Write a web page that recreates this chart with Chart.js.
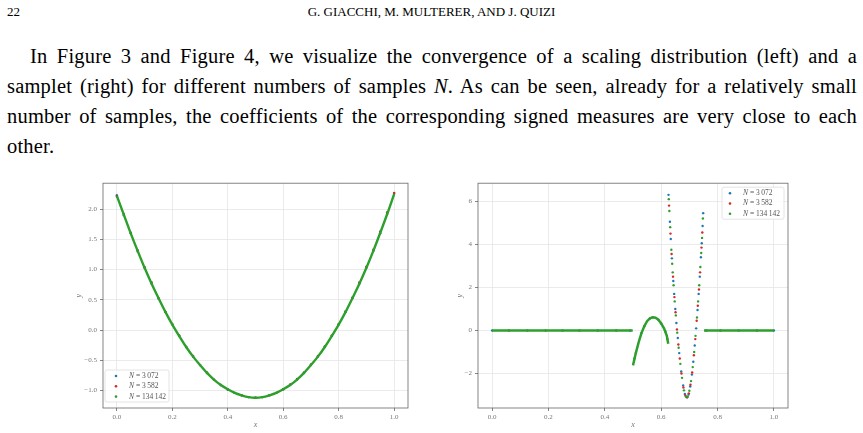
<!DOCTYPE html>
<html lang="en">
<head>
<meta charset="UTF-8">
<title>Figure 3 and Figure 4</title>
<script src="https://cdn.jsdelivr.net/npm/chart.js@4"></script>
<style>
  body { margin:0; width:863px; height:433px; background:#fff; position:relative; overflow:hidden; font-family:'Liberation Serif', serif; color:#000; }
  .pagenum { position:absolute; left:7px; top:4px; font-size:13px; }
  .runhead { position:absolute; left:0; top:4px; width:863px; text-align:center; font-size:13px; }
  .para { position:absolute; left:7px; top:41px; width:850px; font-size:20.5px; letter-spacing:0.2px; line-height:30px; }
  .para span { display:block; text-align:justify; text-align-last:justify; }
  .para span.first { text-indent:23px; }
  .para span.last { text-align-last:left; }
  canvas { position:absolute; }
</style>
</head>
<body>

<div class="pagenum">22</div>
<div class="runhead">G. GIACCHI, M. MULTERER, AND J. QUIZI</div>

<div class="para">
  <span class="first">In Figure 3 and Figure 4, we visualize the convergence of a scaling distribution (left) and a</span>
  <span>samplet (right) for different numbers of samples <i>N</i>. As can be seen, already for a relatively small</span>
  <span>number of samples, the coefficients of the corresponding signed measures are very close to each</span>
  <span class="last">other.</span>
</div>

<canvas id="leftChart" width="370" height="257" style="left:50px;top:176px"></canvas>
<canvas id="rightChart" width="433" height="257" style="left:430px;top:176px"></canvas>

<script>
// sample sizes (legend)
var sampleSizes = ['3\u2009072', '3\u2009582', '134\u2009142'];

// left: scaling distribution
var leftX = [0, 0.025, 0.05, 0.075, 0.1, 0.125, 0.15, 0.175, 0.2, 0.225, 0.25, 0.275, 0.3, 0.325, 0.35, 0.375, 0.4, 0.425, 0.45, 0.475, 0.5,
             0.525, 0.55, 0.575, 0.6, 0.625, 0.65, 0.675, 0.7, 0.725, 0.75, 0.775, 0.8, 0.825, 0.85, 0.875, 0.9, 0.925, 0.95, 0.975, 1];
var leftY3072 = [2.23, 1.90, 1.60, 1.30, 1.03, 0.77, 0.52, 0.30, 0.09, -0.10, -0.28, -0.44, -0.58, -0.71, -0.82, -0.91, -0.99, -1.04, -1.08, -1.11, -1.12,
                 -1.11, -1.08, -1.04, -0.98, -0.91, -0.82, -0.71, -0.58, -0.44, -0.28, -0.10, 0.09, 0.30, 0.53, 0.77, 1.03, 1.31, 1.60, 1.92, 2.26];
var leftY3582 = [2.21, 1.92, 1.61, 1.32, 1.04, 0.79, 0.53, 0.30, 0.10, -0.09, -0.28, -0.43, -0.58, -0.70, -0.82, -0.91, -0.98, -1.04, -1.08, -1.11, -1.12,
                 -1.11, -1.08, -1.04, -0.98, -0.90, -0.81, -0.70, -0.57, -0.43, -0.27, -0.09, 0.10, 0.31, 0.54, 0.79, 1.05, 1.33, 1.63, 1.95, 2.27];
var leftY134142 = [2.22, 1.91, 1.60, 1.31, 1.03, 0.77, 0.53, 0.30, 0.09, -0.10, -0.28, -0.44, -0.58, -0.71, -0.82, -0.91, -0.98, -1.04, -1.08, -1.11, -1.12,
                   -1.11, -1.08, -1.04, -0.98, -0.91, -0.82, -0.71, -0.58, -0.44, -0.28, -0.10, 0.09, 0.30, 0.53, 0.77, 1.03, 1.31, 1.61, 1.92, 2.25];

// right: samplet
var rightX3072 = [0, 0.125, 0.25, 0.375, 0.49, 0.505, 0.53, 0.56, 0.59, 0.615,
                  0.626, 0.631, 0.634, 0.638, 0.643, 0.646, 0.65, 0.654, 0.659, 0.664, 0.671, 0.678, 0.684, 0.691, 0.697, 0.703, 0.709, 0.714,
                  0.719, 0.724, 0.729, 0.733, 0.737, 0.741, 0.744, 0.747, 0.749, 0.76, 0.875, 1];
var rightY3072 = [0, 0, 0, 0, 0, -1.3, -0.12, 0.56, 0.5, -0.05,
                  6.3, 5.05, 4.25, 3.35, 2.3, 1.7, 1.0, 0.35, -0.35, -1.05, -1.9, -2.55, -2.95, -3.1, -2.98, -2.6, -2.05, -1.45,
                  -0.7, 0.1, 0.95, 1.7, 2.5, 3.4, 4.05, 4.85, 5.45, 0, 0, 0];
var rightX3582 = [0.06, 0.19, 0.31, 0.44, 0.51, 0.54, 0.57, 0.6, 0.622,
                  0.628, 0.633, 0.637, 0.642, 0.647, 0.651, 0.656, 0.661, 0.666, 0.672, 0.679, 0.686, 0.692, 0.698, 0.704, 0.71, 0.716,
                  0.721, 0.726, 0.73, 0.734, 0.738, 0.743, 0.746, 0.81, 0.94];
var rightY3582 = [0, 0, 0, 0, -1.05, 0.2, 0.61, 0.33, -0.4,
                  5.8, 4.5, 3.55, 2.5, 1.55, 0.85, 0.05, -0.65, -1.3, -2.0, -2.65, -3.02, -3.1, -2.92, -2.52, -1.95, -1.15,
                  -0.4, 0.45, 1.15, 1.9, 2.7, 3.85, 4.55, 0, 0];
var rightX134142 = [0, 0.1, 0.2, 0.3, 0.4, 0.499,
                    0.5, 0.51, 0.52, 0.53, 0.54, 0.55, 0.56, 0.57, 0.58, 0.59, 0.6, 0.61, 0.62, 0.625,
                    0.627, 0.629, 0.632, 0.636, 0.639, 0.641, 0.644, 0.648, 0.652, 0.657, 0.662, 0.668, 0.674, 0.681, 0.688, 0.694,
                    0.7, 0.706, 0.712, 0.717, 0.722, 0.727, 0.731, 0.735, 0.739, 0.742, 0.745, 0.748,
                    0.752, 0.8, 0.9, 1];
var rightY134142 = [0, 0, 0, 0, 0, 0,
                    -1.62, -1.05, -0.55, -0.12, 0.2, 0.43, 0.56, 0.61, 0.59, 0.5, 0.33, 0.1, -0.25, -0.62,
                    6.1, 5.55, 4.8, 3.75, 3.1, 2.7, 2.1, 1.35, 0.7, -0.1, -0.8, -1.55, -2.2, -2.78, -3.07, -3.07,
                    -2.8, -2.35, -1.7, -1.0, -0.25, 0.6, 1.35, 2.1, 2.95, 3.6, 4.3, 5.2,
                    0, 0, 0, 0];

// ticks and axis limits
var unitTicks = [0, 0.2, 0.4, 0.6, 0.8, 1.0];
var leftYTicks = [-1, -0.5, 0, 0.5, 1, 1.5, 2];
var rightYTicks = [-2, 0, 2, 4, 6];
var xLimits = [-0.05, 1.05];
var leftYLimits = [-1.29, 2.43];
var rightYLimits = [-3.6, 6.84];

var serif = "'Liberation Serif', 'DejaVu Serif', serif";
var blue = '#1f77b4', red = '#d62728', green = '#2ca02c';

function pts(xs, ys) {
  return xs.map(function (x, i) { return { x: x, y: ys[i] }; });
}

function fmt(v, digits) {
  return v.toFixed(digits).replace('-', '\u2212');
}

// the steep part of the samplet, where the dense samples do not form a solid line
function inSteepPart(x) {
  return x > 0.625 && x < 0.752;
}

// matplotlib style frame (all four spines)
var frame = {
  id: 'frame',
  afterDatasetsDraw: function (chart) {
    var a = chart.chartArea, ctx = chart.ctx;
    ctx.save();
    ctx.strokeStyle = '#666';
    ctx.lineWidth = 0.8;
    ctx.strokeRect(a.left, a.top, a.right - a.left, a.bottom - a.top);
    ctx.restore();
  }
};

// legend inside the axes
var insideLegend = {
  id: 'insideLegend',
  afterDraw: function (chart, args, opts) {
    var a = chart.chartArea, ctx = chart.ctx;
    var w = opts.w, h = 32;
    var left = opts.corner === 'lowerLeft' ? a.left + 2 : a.right - w - 4;
    var top = opts.corner === 'lowerLeft' ? a.bottom - h - 6 : a.top + 4;
    ctx.save();
    ctx.fillStyle = 'rgba(255,255,255,0.85)';
    ctx.strokeStyle = '#ddd';
    ctx.lineWidth = 0.8;
    ctx.beginPath();
    ctx.roundRect(left, top, w, h, 2);
    ctx.fill();
    ctx.stroke();
    ctx.textBaseline = 'middle';
    chart.data.datasets.forEach(function (ds, i) {
      var cy = top + 6 + i * 10.3;
      ctx.fillStyle = ds.backgroundColor;
      ctx.beginPath();
      ctx.arc(left + opts.dotX, cy, 1.3, 0, 2 * Math.PI);
      ctx.fill();
      ctx.fillStyle = '#555';
      ctx.font = 'italic 7.5px ' + serif;
      ctx.fillText('N', left + opts.textX, cy);
      var nw = ctx.measureText('N').width;
      ctx.font = '7.5px ' + serif;
      ctx.fillText(' = ' + sampleSizes[i], left + opts.textX + nw, cy);
    });
    ctx.restore();
  }
};

function axes(yTicks, yLimits, yDigits, yWidth, yTitlePad) {
  return {
    x: {
      type: 'linear', min: xLimits[0], max: xLimits[1],
      afterBuildTicks: function (s) { s.ticks = unitTicks.map(function (v) { return { value: v }; }); },
      afterFit: function (s) { s.height = 25; },
      grid: { color: '#e6e6e6', lineWidth: 0.8, tickColor: '#666', tickLength: 3 },
      border: { display: false },
      ticks: { font: { family: serif, size: 7 }, color: '#777', padding: 2, maxRotation: 0,
               callback: function (v) { return fmt(v, 1); } },
      title: { display: true, text: 'x', color: '#777', font: { family: serif, size: 8, style: 'italic' },
               padding: { top: 0, bottom: 3 } }
    },
    y: {
      type: 'linear', min: yLimits[0], max: yLimits[1],
      afterBuildTicks: function (s) { s.ticks = yTicks.map(function (v) { return { value: v }; }); },
      afterFit: function (s) { s.width = yWidth; },
      grid: { color: '#e6e6e6', lineWidth: 0.8, tickColor: '#666', tickLength: 3 },
      border: { display: false },
      ticks: { font: { family: serif, size: 7 }, color: '#777', padding: 3,
               callback: function (v) { return fmt(v, yDigits); } },
      title: { display: true, text: 'y', color: '#777', font: { family: serif, size: 8, style: 'italic' },
               padding: { top: yTitlePad, bottom: 0 } }
    }
  };
}

// left chart
new Chart(document.getElementById('leftChart'), {
  type: 'scatter',
  data: {
    datasets: [
      { label: 'N = ' + sampleSizes[0], data: pts(leftX, leftY3072), backgroundColor: blue, borderColor: blue,
        pointRadius: 1.2, pointBorderWidth: 0, order: 3 },
      { label: 'N = ' + sampleSizes[1], data: pts(leftX, leftY3582), backgroundColor: red, borderColor: red,
        pointRadius: 1.2, pointBorderWidth: 0, order: 2 },
      { label: 'N = ' + sampleSizes[2], data: pts(leftX, leftY134142), backgroundColor: green, borderColor: green,
        showLine: true, borderWidth: 2.4, cubicInterpolationMode: 'monotone', pointRadius: 0, order: 1 }
    ]
  },
  options: {
    responsive: false, animation: false, devicePixelRatio: 1,
    layout: { padding: { left: 0, top: 5, right: 12, bottom: 0 } },
    plugins: { legend: { display: false }, tooltip: { enabled: false },
               insideLegend: { corner: 'lowerLeft', w: 64, dotX: 11, textX: 24 } },
    scales: axes(leftYTicks, leftYLimits, 1, 53, 24)
  },
  plugins: [frame, insideLegend]
});

// right chart
new Chart(document.getElementById('rightChart'), {
  type: 'scatter',
  data: {
    datasets: [
      { label: 'N = ' + sampleSizes[0], data: pts(rightX3072, rightY3072), backgroundColor: blue, borderColor: blue,
        pointRadius: 1.2, pointBorderWidth: 0, order: 3 },
      { label: 'N = ' + sampleSizes[1], data: pts(rightX3582, rightY3582), backgroundColor: red, borderColor: red,
        pointRadius: 1.2, pointBorderWidth: 0, order: 2 },
      { label: 'N = ' + sampleSizes[2], data: pts(rightX134142, rightY134142), backgroundColor: green, borderColor: green,
        showLine: true, borderWidth: 2.5, pointBorderWidth: 0, order: 1,
        pointRadius: function (ctx) {
          var p = ctx.raw;
          return p && inSteepPart(p.x) ? 1.2 : 0;
        },
        segment: {
          borderColor: function (ctx) {
            var a = ctx.p0.parsed.x, b = ctx.p1.parsed.x;
            if (a < 0.5 && b >= 0.5) return 'transparent';
            if (b > 0.625 && a < 0.752) return 'transparent';
            return green;
          }
        } }
    ]
  },
  options: {
    responsive: false, animation: false, devicePixelRatio: 1,
    layout: { padding: { left: 0, top: 5, right: 75, bottom: 0 } },
    plugins: { legend: { display: false }, tooltip: { enabled: false },
               insideLegend: { corner: 'upperRight', w: 62, dotX: 8, textX: 21 } },
    scales: axes(rightYTicks, rightYLimits, 0, 48, 25)
  },
  plugins: [frame, insideLegend]
});
</script>
</body>
</html>
